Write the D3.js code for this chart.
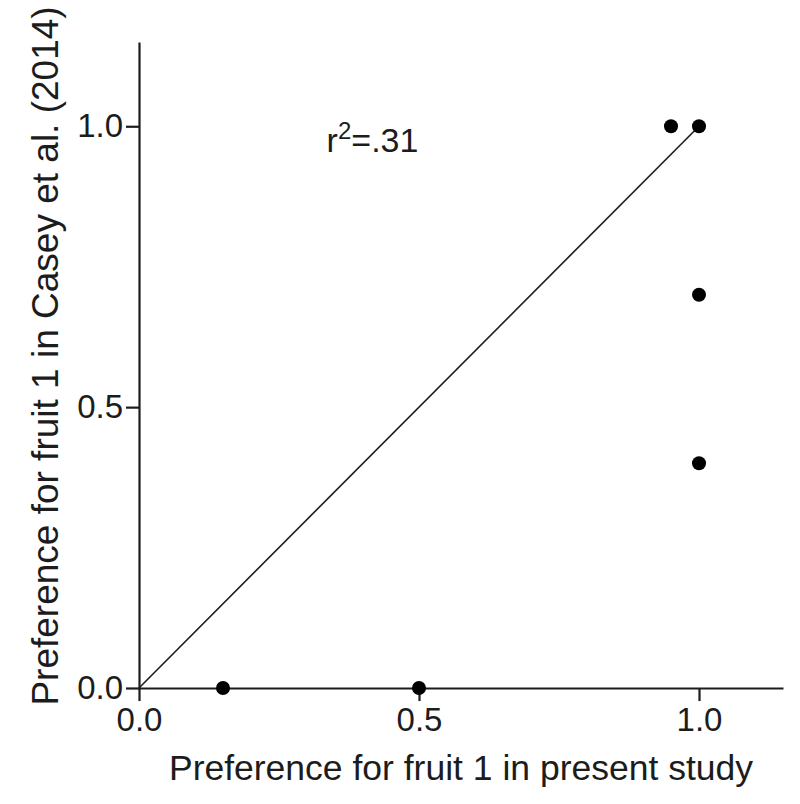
<!DOCTYPE html>
<html>
<head>
<meta charset="utf-8">
<script src="https://cdn.jsdelivr.net/npm/d3@7"></script>
<style>
  body { margin: 0; background: #fff; }
  text { font-family: "Liberation Sans", Arial, sans-serif; fill: #1c1c1c; }
</style>
</head>
<body>
<div id="chart"></div>
<script>
// preference scatter, present study vs Casey et al. (2014)

var presentPref = [0.15, 0.5, 0.95, 1.0, 1.0, 1.0];
var caseyPref = [0.0, 0.0, 1.0, 1.0, 0.7, 0.4];
var tickValues = [0, 0.5, 1.0];
var fitLine = [[0, 0], [1, 1]];
var rSquared = ".31";

var width = 800, height = 804;
var margin = { top: 42, right: 17, bottom: 116, left: 139 };

var svg = d3.select('#chart')
    .append('svg')
    .attr('width', width)
    .attr('height', height);

var innerW = width - margin.left - margin.right;
var innerH = height - margin.top - margin.bottom;

var g = svg.append('g')
    .attr('transform', 'translate(' + margin.left + ',' + margin.top + ')');

var xScale = d3.scaleLinear().domain([0, 1.15]).range([0, innerW]);
var yScale = d3.scaleLinear().domain([0, 1.15]).range([innerH, 0]);

// axes
var xAxis = g.append('g')
    .attr('transform', 'translate(0,' + innerH + ')')
    .call(d3.axisBottom(xScale).tickValues(tickValues).tickFormat(d3.format('.1f')).tickSize(13).tickSizeOuter(0).tickPadding(7));

var yAxis = g.append('g')
    .call(d3.axisLeft(yScale).tickValues(tickValues).tickFormat(d3.format('.1f')).tickSize(13).tickSizeOuter(0).tickPadding(3));

[xAxis, yAxis].forEach(function (a) {
    a.select('.domain').attr('stroke', '#1c1c1c').attr('stroke-width', 2.2);
    a.selectAll('.tick line').attr('stroke', '#1c1c1c').attr('stroke-width', 2.2);
    a.selectAll('.tick text')
        .style('font-family', '"Liberation Sans", Arial, sans-serif')
        .style('font-size', '33px')
        .attr('fill', '#1c1c1c');
});

// fit line
var line = d3.line()
    .x(function (d) { return xScale(d[0]); })
    .y(function (d) { return yScale(d[1]); });

g.append('path')
    .datum(fitLine)
    .attr('d', line)
    .attr('fill', 'none')
    .attr('stroke', '#1c1c1c')
    .attr('stroke-width', 1.6);

// points
g.selectAll('.dot')
    .data(presentPref.map(function (d, i) { return { x: d, y: caseyPref[i] }; }))
    .enter()
    .append('circle')
    .attr('class', 'dot')
    .attr('cx', function (d) { return xScale(d.x); })
    .attr('cy', function (d) { return yScale(d.y); })
    .attr('r', 7)
    .attr('fill', '#000');

// r squared label
var rText = g.append('text')
    .attr('x', xScale(0.335))
    .attr('y', yScale(0.955))
    .style('font-size', '34px');
rText.append('tspan').text('r');
rText.append('tspan').attr('dy', -13).style('font-size', '24px').text('2');
rText.append('tspan').attr('dy', 13).text('=' + rSquared);

// axis titles
svg.append('text')
    .attr('x', 461)
    .attr('y', 780)
    .attr('text-anchor', 'middle')
    .style('font-size', '35.5px')
    .text('Preference for fruit 1 in present study');

svg.append('text')
    .attr('transform', 'translate(58,356) rotate(-90)')
    .attr('text-anchor', 'middle')
    .style('font-size', '37px')
    .text('Preference for fruit 1 in Casey et al. (2014)');
</script>
</body>
</html>
